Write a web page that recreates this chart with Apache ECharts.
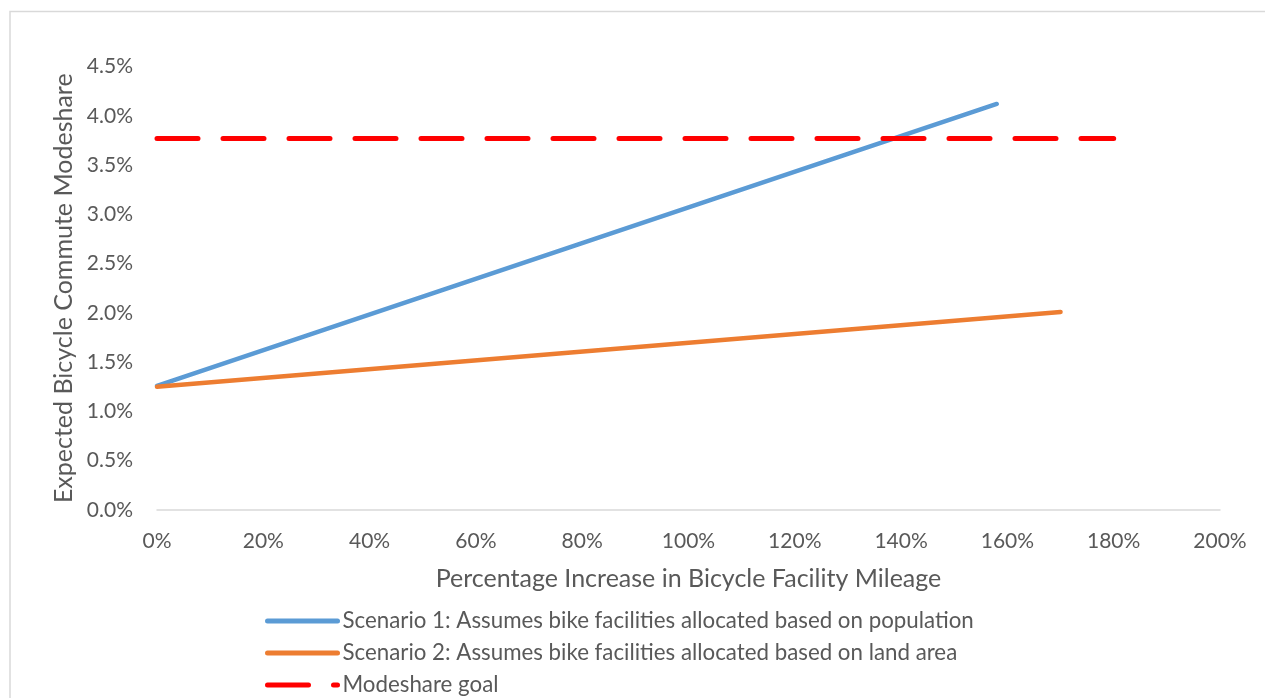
<!DOCTYPE html>
<html>
<head>
<meta charset="utf-8">
<script src="https://cdn.jsdelivr.net/npm/echarts@6/dist/echarts.min.js"></script>
<style>
  html, body { margin: 0; padding: 0; background: #fff; }
  #chart { width: 1265px; height: 698px; }
</style>
</head>
<body>
<div id="chart"></div>
<script>
// Percentage increase in facility mileage (x) vs expected modeshare (y), both in %
const scenario1X = [0, 158];
const scenario1Y = [1.26, 4.12];
const scenario2X = [0, 170];
const scenario2Y = [1.25, 2.01];
const goalX = [0, 180];
const goalY = [3.77, 3.77];

const seriesNames = [
  'Scenario 1: Assumes bike facilities allocated based on population',
  'Scenario 2: Assumes bike facilities allocated based on land area',
  'Modeshare goal'
];

const FONT = 'Lato, "Open Sans", sans-serif';
const GREY = '#595959';

const pairs = (xs, ys) => xs.map((x, i) => [x, ys[i]]);

const chart = echarts.init(document.getElementById('chart'));
chart.setOption({
  animation: false,
  backgroundColor: '#fff',
  textStyle: { fontFamily: FONT },
  graphic: [{
    type: 'rect',
    shape: { x: 10, y: 11.5, width: 1300, height: 720 },
    style: { fill: 'none', stroke: '#d9d9d9', lineWidth: 1.5 },
    silent: true
  }],
  grid: { left: 157, right: 45, top: 66.5, bottom: 188, containLabel: false },
  xAxis: {
    type: 'value',
    min: 0, max: 200, interval: 20,
    name: 'Percentage Increase in Bicycle Facility Mileage',
    nameLocation: 'middle',
    nameGap: 56,
    nameTextStyle: { color: GREY, fontSize: 25, fontFamily: FONT },
    axisLine: { show: true, lineStyle: { color: '#d9d9d9', width: 1.5 } },
    axisTick: { show: false },
    splitLine: { show: false },
    axisLabel: { color: GREY, fontSize: 21, margin: 21, fontFamily: FONT,
                 formatter: v => v + '%' }
  },
  yAxis: {
    type: 'value',
    min: 0, max: 4.5, interval: 0.5,
    name: 'Expected Bicycle Commute Modeshare',
    nameLocation: 'middle',
    nameGap: 81,
    nameTextStyle: { color: GREY, fontSize: 25, fontFamily: FONT },
    axisLine: { show: false },
    axisTick: { show: false },
    splitLine: { show: false },
    axisLabel: { color: GREY, fontSize: 21, margin: 24, fontFamily: FONT,
                 formatter: v => v.toFixed(1) + '%' }
  },
  legend: {
    orient: 'vertical',
    left: 265,
    top: 610,
    height: 120,
    padding: 0,
    itemWidth: 70,
    itemHeight: 10,
    itemGap: 10,
    data: seriesNames,
    itemStyle: { color: 'transparent', borderWidth: 0, opacity: 0 },
    lineStyle: { width: 5 },
    textStyle: { color: GREY, fontSize: 22.3, fontFamily: FONT, lineHeight: 22, padding: [0, 0, 0, 0] }
  },
  series: [
    {
      name: seriesNames[0], type: 'line', symbol: 'none', clip: true,
      data: pairs(scenario1X, scenario1Y),
      lineStyle: { color: '#5B9BD5', width: 4.5, cap: 'round' },
      itemStyle: { color: '#5B9BD5' }
    },
    {
      name: seriesNames[1], type: 'line', symbol: 'none', clip: true,
      data: pairs(scenario2X, scenario2Y),
      lineStyle: { color: '#ED7D31', width: 4.5, cap: 'round' },
      itemStyle: { color: '#ED7D31' }
    },
    {
      name: seriesNames[2], type: 'line', symbol: 'none', clip: true,
      data: pairs(goalX, goalY),
      lineStyle: { color: '#FF0000', width: 5, type: [41, 25], cap: 'round' },
      itemStyle: { color: '#FF0000' }
    }
  ]
});
</script>
</body>
</html>
